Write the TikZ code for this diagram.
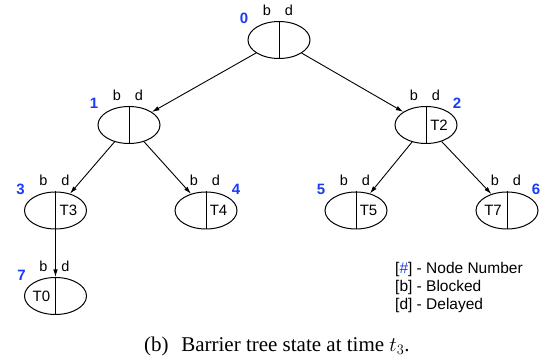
\documentclass[tikz,border=0pt]{standalone}
\usepackage{fontspec}
\setmainfont{Liberation Sans}
\newfontfamily\capfont{Liberation Serif}
\usetikzlibrary{shapes.geometric,arrows.meta}
\definecolor{numblue}{RGB}{25,60,245}
\newcommand{\bdup}{-5.5}
\newcommand{\numdown}{3}
\tikzset{
  bnode/.style={draw, ellipse, line width=1pt, minimum width=62pt, minimum height=37pt, inner sep=0pt},
  divider/.style={line width=0.95pt},
  treearrow/.style={-{Latex[length=7.5pt,width=4.5pt]}, line width=0.9pt},
  bdlbl/.style={font=\fontsize{14.5}{17}\selectfont, inner sep=0pt, anchor=base},
  numlbl/.style={font=\fontsize{15}{18}\selectfont\bfseries, text=numblue, inner sep=0pt, anchor=base},
  tlabel/.style={font=\fontsize{15}{18}\selectfont, inner sep=0pt},
  legline/.style={font=\fontsize{15.5}{18}\selectfont, inner sep=0pt, anchor=base west}
}

\begin{document}
\begin{tikzpicture}[x=1pt,y=-1pt]
\useasboundingbox (0,0) rectangle (549,358);
\node[bnode] (0) at (279,40) {};
\node[bnode] (1) at (129,125) {};
\node[bnode] (2) at (426,125) {};
\node[bnode] (3) at (55.5,210.5) {};
\node[bnode] (4) at (206,210.5) {};
\node[bnode] (5) at (356,210.5) {};
\node[bnode] (6) at (507,210.5) {};
\node[bnode] (7) at (55.5,296) {};
%dividers
\draw[divider] (0.north) -- (0.south);
\draw[divider] (1.north) -- (1.south);
\draw[divider] (2.north) -- (2.south);
\draw[divider] (3.north) -- (3.south);
\draw[divider] (4.north) -- (4.south);
\draw[divider] (5.north) -- (5.south);
\draw[divider] (6.north) -- (6.south);
\draw[divider] (7.north) -- (7.south);
%b d
\node[bdlbl] (0b) at ([shift={(-12,\bdup)}]0.north) {b};
\node[bdlbl] (0d) at ([shift={(10,\bdup)}]0.north) {d};
\node[bdlbl] (1b) at ([shift={(-12,\bdup)}]1.north) {b};
\node[bdlbl] (1d) at ([shift={(10,\bdup)}]1.north) {d};
\node[bdlbl] (2b) at ([shift={(-12,\bdup)}]2.north) {b};
\node[bdlbl] (2d) at ([shift={(10,\bdup)}]2.north) {d};
\node[bdlbl] (3b) at ([shift={(-12,\bdup)}]3.north) {b};
\node[bdlbl] (3d) at ([shift={(10,\bdup)}]3.north) {d};
\node[bdlbl] (4b) at ([shift={(-12,\bdup)}]4.north) {b};
\node[bdlbl] (4d) at ([shift={(10,\bdup)}]4.north) {d};
\node[bdlbl] (5b) at ([shift={(-12,\bdup)}]5.north) {b};
\node[bdlbl] (5d) at ([shift={(10,\bdup)}]5.north) {d};
\node[bdlbl] (6b) at ([shift={(-12,\bdup)}]6.north) {b};
\node[bdlbl] (6d) at ([shift={(10,\bdup)}]6.north) {d};
\node[bdlbl] (7b) at ([shift={(-12,\bdup)}]7.north) {b};
\node[bdlbl] (7d) at ([shift={(10,\bdup)}]7.north) {d};
%node numbers
\node[numlbl] (0n) at ([shift={(-35,\numdown)}]0.north) {0};
\node[numlbl] (1n) at ([shift={(-35,\numdown)}]1.north) {1};
\node[numlbl] (2n) at ([shift={(31,\numdown)}]2.north) {2};
\node[numlbl] (3n) at ([shift={(-35,\numdown)}]3.north) {3};
\node[numlbl] (4n) at ([shift={(30,\numdown)}]4.north) {4};
\node[numlbl] (5n) at ([shift={(-35,\numdown)}]5.north) {5};
\node[numlbl] (6n) at ([shift={(29,\numdown)}]6.north) {6};
\node[numlbl] (7n) at ([shift={(-34,\numdown)}]7.north) {7};
%threads
\node[tlabel] (2t) at ([xshift=13pt]2.center) {T2};
\node[tlabel] (3t) at ([xshift=13pt]3.center) {T3};
\node[tlabel] (4t) at ([xshift=12.5pt]4.center) {T4};
\node[tlabel] (5t) at ([xshift=12.5pt]5.center) {T5};
\node[tlabel] (6t) at ([xshift=-14pt]6.center) {T7};
\node[tlabel] (7t) at ([xshift=-14pt]7.center) {T0};
%edges
\draw[treearrow] (0) -- (1);
\draw[treearrow] (0) -- (2);
\draw[treearrow] (1) -- (3);
\draw[treearrow] (1) -- (4);
\draw[treearrow] (2) -- (5);
\draw[treearrow] (2) -- (6);
\draw[treearrow] (3) -- (7);
%legend
\node[legline] (leg1) at (395,273.5) {[\textcolor{numblue}{\#}] - Node Number};
\node[legline] (leg2) at (395,291.5) {[b] - Blocked};
\node[legline] (leg3) at (395,309.5) {[d] - Delayed};
%caption
\node[inner sep=0pt, anchor=base west, font=\capfont\fontsize{21}{24}\selectfont] (cap) at (144,351.5) {(b)\hspace{0.6em}Barrier tree state at time $t_3$.};
\end{tikzpicture}
\end{document}
